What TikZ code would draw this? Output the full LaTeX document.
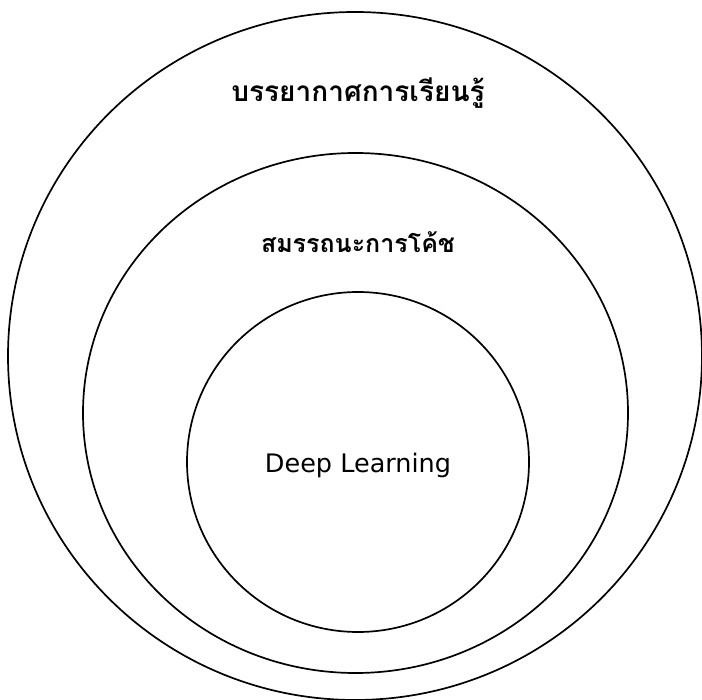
\documentclass[tikz,border=0pt]{standalone}
\usepackage{fontspec}
\newfontfamily\thaifont[Script=Thai]{Loma}
\setmainfont{DejaVu Sans}
\begin{document}
\begin{tikzpicture}[x=1pt,y=-1pt,
  ring/.style={draw=black,line width=1.7pt},
  thailabel/.style={font=\thaifont\bfseries,anchor=base,inner sep=0pt},
  latinlabel/.style={font=\fontsize{25.5}{30}\selectfont,anchor=base,inner sep=0pt}]
\useasboundingbox[fill=white] (0,0) rectangle (702,700);
\draw[ring] (355,356) ellipse [x radius=347,y radius=344];
\draw[ring] (355.5,413) ellipse [x radius=272.5,y radius=260];
\draw[ring] (358,462) ellipse [x radius=171,y radius=170];
\node[thailabel,font=\thaifont\bfseries\fontsize{28}{32}\selectfont] (outer) at (358,102) {บรรยากาศการเรียนรู้};
\node[thailabel,font=\thaifont\bfseries\fontsize{25}{30}\selectfont] (middle) at (358,253) {สมรรถนะการโค้ช};
\node[latinlabel] (inner) at (358,473) {Deep Learning};
\end{tikzpicture}
\end{document}
